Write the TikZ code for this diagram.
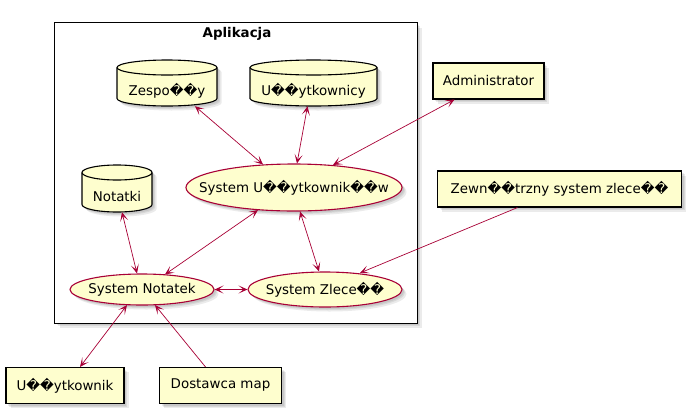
\documentclass[tikz,border=0pt]{standalone}
\usepackage{fontspec}
\setmainfont{DejaVu Sans}
\usetikzlibrary{shapes.geometric,arrows.meta}
\definecolor{umlfill}{HTML}{FEFECE}
\definecolor{umlred}{HTML}{A80036}
\tikzset{
  txt/.style={font=\fontsize{13.4}{15}\selectfont, inner sep=0pt},
  shadA/.style={fill=black, fill opacity=0.08, draw=none, shift={(2,-2)}},
  shadB/.style={fill=black, fill opacity=0.08, draw=none, shift={(3,-3)}},
  shadC/.style={fill=black, fill opacity=0.08, draw=none, shift={(4.5,-4.5)}},
  boxst/.style={rectangle, draw=black, line width=1.1pt, fill=umlfill, inner sep=0pt, font=\fontsize{13.4}{15}\selectfont},
  ellst/.style={ellipse, draw=umlred, line width=1.1pt, fill=umlfill, inner sep=0pt, font=\fontsize{13.4}{15}\selectfont},
  holder/.style={rectangle, inner sep=0pt},
  link/.style={draw=umlred, line width=0.7pt},
  both/.style={link, {Stealth[length=9pt,width=8pt,inset=5pt]}-{Stealth[length=9pt,width=8pt,inset=5pt]}},
  one/.style={link, -{Stealth[length=9pt,width=8pt,inset=5pt]}},
}
\newcommand\softshadow[1]{\path[shadA] #1; \path[shadB] #1; \path[shadC] #1;}
% cylinder centred at origin: #1 = x radius, #2 = half height
\newcommand\cylpath[2]{(-#1,#2-7.5) -- (-#1,-#2+7.5) arc[start angle=180,end angle=360,x radius=#1,y radius=7.5] -- (#1,#2-7.5) arc[start angle=0,end angle=180,x radius=#1,y radius=7.5] -- cycle}
\newcommand\drawcyl[4]{%
  \begin{scope}[shift={(#1,#2)}]
  \softshadow{\cylpath{#3}{#4}}
  \draw[fill=umlfill, line width=1.1pt] \cylpath{#3}{#4};
  \draw[line width=1.1pt] (-#3,#4-7.5) arc[start angle=180,end angle=360,x radius=#3,y radius=7.5];
  \end{scope}
}
\begin{document}
\begin{tikzpicture}[x=1pt,y=1pt]
\useasboundingbox (0,0) rectangle (691,-413);
\fill[white] (0,0) rectangle (691,-413);

% package
\node[holder, minimum width=362pt, minimum height=300pt] (pkg) at (236,-173) {};
\softshadow{(55,-23) rectangle (417,-323)}
\draw[line width=1.1pt, fill=white] (pkg.north west) rectangle (pkg.south east);
\node[txt, font=\fontsize{13.4}{15}\selectfont\bfseries] (pkgT) at (237,-34) {Aplikacja};

% cylinders
\node[holder, minimum width=100pt, minimum height=46pt] (zes) at (167,-83) {};
\node[holder, minimum width=127pt, minimum height=46pt] (uzy) at (313.5,-83) {};
\node[holder, minimum width=70pt, minimum height=47pt] (not) at (117,-188.5) {};
\drawcyl{167}{-83}{50}{23}
\drawcyl{313.5}{-83}{63.5}{23}
\drawcyl{117}{-188.5}{35}{23.5}
\node[txt] (zesT) at (167,-91) {Zespo��y};
\node[txt] (uzyT) at (313.5,-91) {U��ytkownicy};
\node[txt] (notT) at (117,-196) {Notatki};

% ellipses
\softshadow{(294,-187.5) ellipse[x radius=108, y radius=23.5]}
\softshadow{(142,-289.5) ellipse[x radius=72, y radius=15.5]}
\softshadow{(325,-289.5) ellipse[x radius=77, y radius=17.5]}
\node[ellst, minimum width=216pt, minimum height=47pt] (sysU) at (294,-187.5) {\makebox[0pt]{System U��ytkownik��w}};
\node[ellst, minimum width=144pt, minimum height=31pt] (sysN) at (142,-289.5) {\makebox[0pt]{System Notatek}};
\node[ellst, minimum width=154pt, minimum height=35pt] (sysZ) at (325,-289.5) {\makebox[0pt]{System Zlece��}};

% boxes
\softshadow{(433,-63) rectangle (544,-99)}
\softshadow{(437.5,-171) rectangle (681.5,-207)}
\softshadow{(6,-367.5) rectangle (124,-403.5)}
\softshadow{(159.5,-367.5) rectangle (281.5,-403.5)}
\node[boxst, minimum width=111pt, minimum height=36pt] (adm) at (488.5,-81) {Administrator};
\node[boxst, minimum width=244pt, minimum height=36pt] (zew) at (559.5,-189) {Zewn��trzny system zlece��};
\node[boxst, minimum width=118pt, minimum height=36pt] (uz) at (65,-385.5) {U��ytkownik};
\node[boxst, minimum width=122pt, minimum height=36pt] (dos) at (220.5,-385.5) {Dostawca map};

% connectors
\draw[both] ([xshift=28pt]zes.south) -- ([xshift=-31pt,yshift=-1pt]sysU.north);
\draw[both] ([xshift=-6pt]uzy.south) -- ([xshift=3pt]sysU.north);
\draw[both] ([xshift=-34pt]adm.south) -- ([xshift=39pt,yshift=-1.5pt]sysU.north);
\draw[both] ([xshift=5pt]not.south) -- ([xshift=-5pt]sysN.north);
\draw[both] ([xshift=-36pt,yshift=1.5pt]sysU.south) -- ([xshift=23pt,yshift=-1pt]sysN.north);
\draw[both] ([xshift=6pt]sysU.south) -- ([xshift=-6pt]sysZ.north);
\draw[one] ([xshift=-42pt]zew.south) -- ([xshift=35pt,yshift=-1.5pt]sysZ.north);
\draw[both] (sysN.east) -- (sysZ.west);
\draw[both] ([xshift=-15pt,yshift=0.5pt]sysN.south) -- ([xshift=15pt]uz.north);
\draw[one] ([xshift=-15pt]dos.north) -- ([xshift=13pt,yshift=0.5pt]sysN.south);
\end{tikzpicture}
\end{document}
